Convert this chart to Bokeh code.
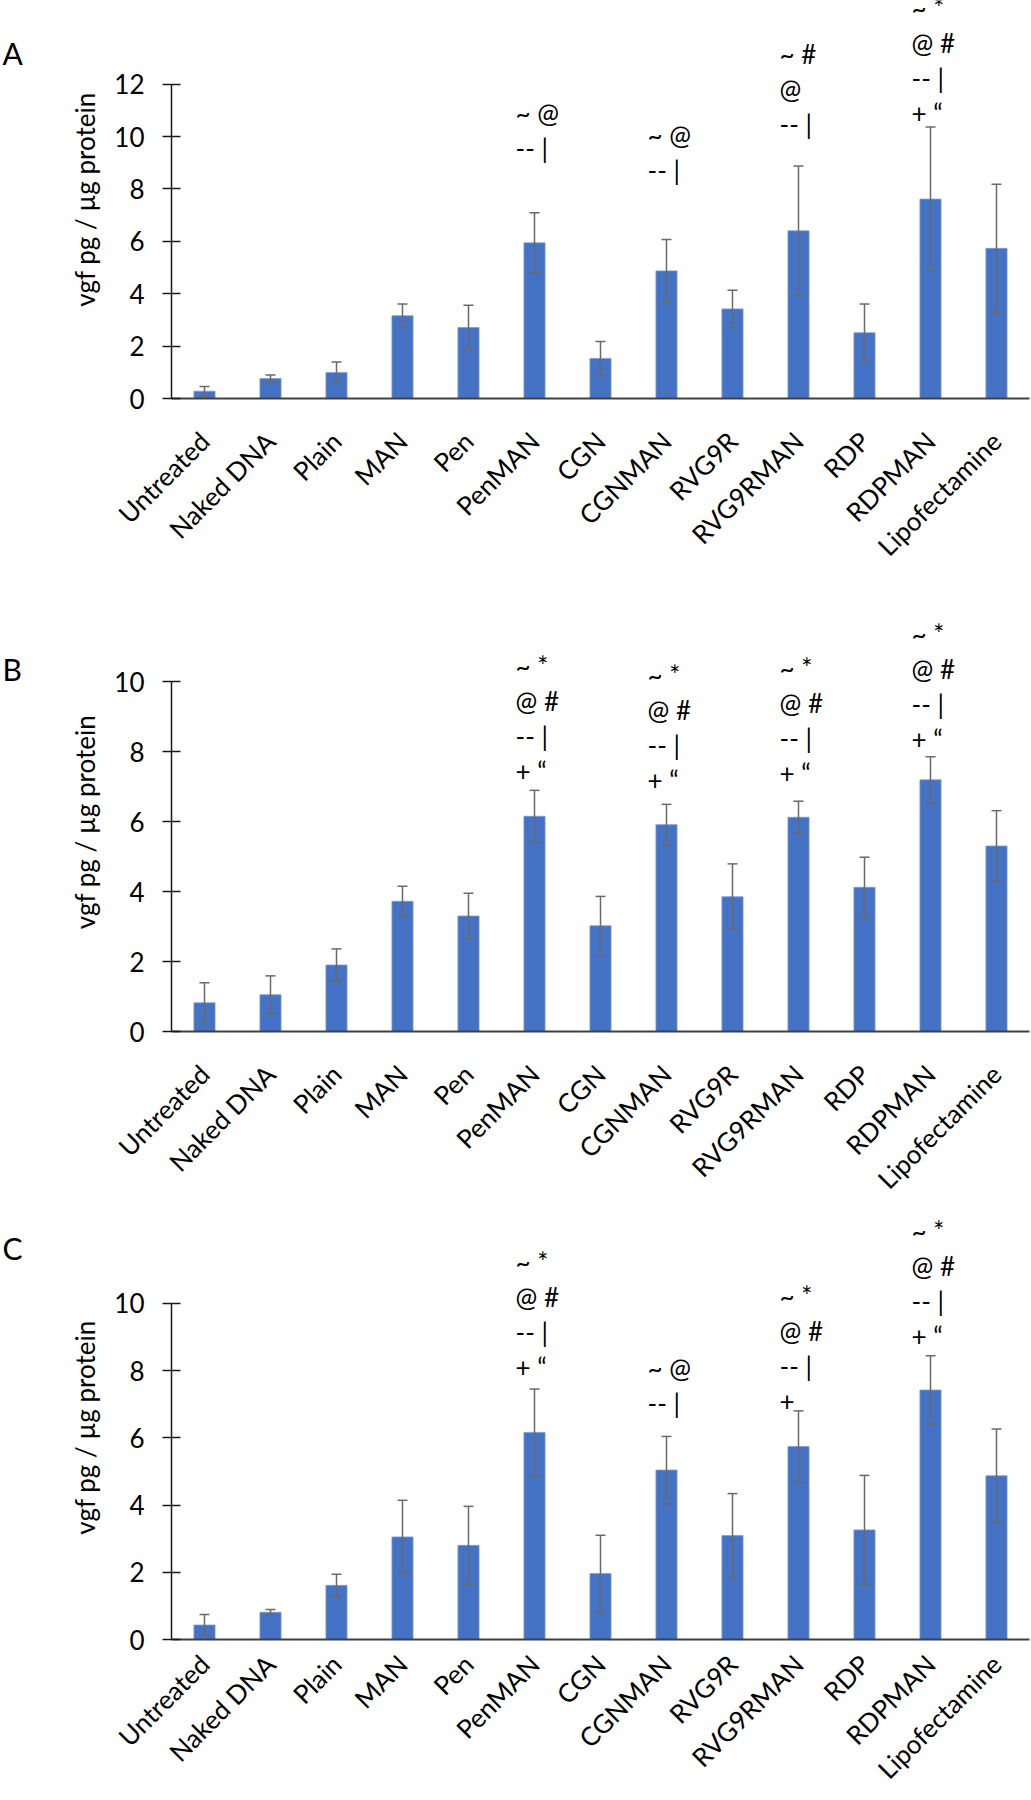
import math
from bokeh.plotting import figure
from bokeh.models import (ColumnDataSource, FactorRange, Range1d, FixedTicker,
                          Whisker, TeeHead)
from bokeh.layouts import column, row
from bokeh.embed import file_html
from bokeh.resources import INLINE
from bokeh.core.properties import value

# ---------------- data ----------------
categories = ["Untreated", "Naked DNA", "Plain", "MAN", "Pen", "PenMAN", "CGN",
              "CGNMAN", "RVG9R", "RVG9RMAN", "RDP", "RDPMAN", "Lipofectamine"]

mean_A = [0.28, 0.76, 0.99, 3.16, 2.71, 5.94, 1.53, 4.87, 3.42, 6.40, 2.51, 7.61, 5.73]
err_A = [0.18, 0.14, 0.40, 0.45, 0.85, 1.15, 0.65, 1.20, 0.71, 2.47, 1.10, 2.75, 2.45]

mean_B = [0.82, 1.05, 1.90, 3.72, 3.30, 6.15, 3.02, 5.91, 3.85, 6.12, 4.12, 7.19, 5.30]
err_B = [0.57, 0.54, 0.46, 0.43, 0.65, 0.74, 0.84, 0.58, 0.94, 0.46, 0.86, 0.66, 1.01]

mean_C = [0.43, 0.81, 1.61, 3.05, 2.80, 6.16, 1.96, 5.04, 3.09, 5.74, 3.26, 7.42, 4.87]
err_C = [0.31, 0.08, 0.33, 1.09, 1.16, 1.29, 1.14, 1.00, 1.25, 1.06, 1.62, 1.02, 1.39]

y_ticks_A = [0, 2, 4, 6, 8, 10, 12]
y_ticks_B = [0, 2, 4, 6, 8, 10]
y_ticks_C = [0, 2, 4, 6, 8, 10]

y_label = "vgf pg / µg protein"
panel_letters = ["A", "B", "C"]

# significance marks (top line first)
sig_A = {"PenMAN": ["~ @", "-- |"],
         "CGNMAN": ["~ @", "-- |"],
         "RVG9RMAN": ["~ #", "@", "-- |"],
         "RDPMAN": ["~ *", "@ #", "-- |", "+ \u201c"]}
sig_B = {"PenMAN": ["~ *", "@ #", "-- |", "+ \u201c"],
         "CGNMAN": ["~ *", "@ #", "-- |", "+ \u201c"],
         "RVG9RMAN": ["~ *", "@ #", "-- |", "+ \u201c"],
         "RDPMAN": ["~ *", "@ #", "-- |", "+ \u201c"]}
sig_C = {"PenMAN": ["~ *", "@ #", "-- |", "+ \u201c"],
         "CGNMAN": ["~ @", "-- |"],
         "RVG9RMAN": ["~ *", "@ #", "-- |", "+"],
         "RDPMAN": ["~ *", "@ #", "-- |", "+ \u201c"]}

# baseline (data units) of the lowest mark line
sig_pos_A = {"PenMAN": 9.58, "CGNMAN": 8.72, "RVG9RMAN": 10.46, "RDPMAN": 10.9}
sig_pos_B = {"PenMAN": 7.45, "CGNMAN": 7.2, "RVG9RMAN": 7.4, "RDPMAN": 8.37}
sig_pos_C = {"PenMAN": 8.1, "CGNMAN": 7.04, "RVG9RMAN": 7.1, "RDPMAN": 9.03}

# ---------------- style ----------------
FONT = "Lato"
FS = "26px"
BAR = "#4472C4"
ERR = "#6a6a6a"
LINE_GAP = 35  # px between mark lines
LETTER_W = 30


def letter_fig(letter, h, baseline):
    f = figure(width=LETTER_W, height=h, x_range=Range1d(0, LETTER_W),
               y_range=Range1d(h, 0), output_backend="svg",
               toolbar_location=None, x_axis_location=None,
               y_axis_location=None, min_border=0)
    f.outline_line_color = None
    f.xgrid.visible = False
    f.ygrid.visible = False
    f.text(x=[2], y=[baseline], text=[letter], text_font=value(FONT),
           text_font_size="30px", text_color="black", text_align="left",
           text_baseline="alphabetic")
    return f


def panel(means, errs, ticks, y_top, sig, sig_pos, h, b_top, b_bottom, lab_off):
    p = figure(x_range=FactorRange(*categories), y_range=Range1d(0, y_top),
               width=1031 - LETTER_W, height=h, output_backend="svg",
               toolbar_location=None,
               min_border_left=171 - LETTER_W, min_border_right=2,
               min_border_top=b_top, min_border_bottom=b_bottom)
    p.outline_line_color = None
    p.xgrid.visible = False
    p.ygrid.visible = False

    src = ColumnDataSource(dict(
        x=categories, top=means,
        upper=[m + e for m, e in zip(means, errs)],
        lower=[m - e for m, e in zip(means, errs)]))

    p.vbar(x="x", top="top", width=0.32, source=src, fill_color=BAR,
           line_color="#7f9bd4", line_width=0.8)

    w = Whisker(base="x", upper="upper", lower="lower", source=src,
                line_color=ERR, line_width=1.5, level="annotation",
                upper_head=TeeHead(size=10, line_color=ERR, line_width=1.5),
                lower_head=TeeHead(size=10, line_color=ERR, line_width=1.5))
    p.add_layout(w)

    xs, ys, txt, offs = [], [], [], []
    for cat, lines in sig.items():
        n = len(lines)
        for k, t in enumerate(lines):
            xs.append(cat)
            ys.append(sig_pos[cat])
            txt.append(t)
            offs.append(-(n - 1 - k) * LINE_GAP)
    ssrc = ColumnDataSource(dict(x=xs, y=ys, text=txt, yo=offs))
    p.text(x="x", y="y", text="text", y_offset="yo", x_offset=-19, source=ssrc,
           text_font=value(FONT), text_font_size=FS, text_color="black",
           text_align="left", text_baseline="alphabetic")

    ya = p.yaxis[0]
    ya.ticker = FixedTicker(ticks=ticks)
    ya.bounds = (0, ticks[-1])
    ya.major_tick_in = 9
    ya.major_tick_out = 9
    ya.minor_tick_in = 0
    ya.minor_tick_out = 0
    ya.axis_line_color = "#1a1a1a"
    ya.axis_line_width = 1.5
    ya.major_tick_line_color = "#1a1a1a"
    ya.major_tick_line_width = 1.5
    ya.major_label_text_font = FONT
    ya.major_label_text_font_size = FS
    ya.major_label_text_color = "black"
    ya.major_label_standoff = 18
    ya.axis_label = y_label
    ya.axis_label_text_font = FONT
    ya.axis_label_text_font_size = FS
    ya.axis_label_text_font_style = "normal"
    ya.axis_label_text_color = "black"
    ya.axis_label_standoff = 10

    xa = p.xaxis[0]
    xa.major_tick_in = 0
    xa.major_tick_out = 0
    xa.axis_line_color = "#404040"
    xa.axis_line_width = 2
    xa.major_label_orientation = math.pi / 4
    xa.major_label_text_font = FONT
    xa.major_label_text_font_size = FS
    xa.major_label_text_color = "black"
    xa.major_label_standoff = lab_off
    return p


hA, hB, hC = 594, 616, 589
pA = panel(mean_A, err_A, y_ticks_A, 398 / 26.2, sig_A, sig_pos_A,
           h=hA, b_top=0, b_bottom=196, lab_off=38)
pB = panel(mean_B, err_B, y_ticks_B, 419 / 35.0, sig_B, sig_pos_B,
           h=hB, b_top=18, b_bottom=179, lab_off=38)
pC = panel(mean_C, err_C, y_ticks_C, 425 / 33.7, sig_C, sig_pos_C,
           h=hC, b_top=5, b_bottom=159, lab_off=20)

layout = column(
    row(letter_fig(panel_letters[0], hA, 79), pA, spacing=0),
    row(letter_fig(panel_letters[1], hB, 83), pB, spacing=0),
    row(letter_fig(panel_letters[2], hC, 45), pC, spacing=0),
    spacing=0)

with open("out.html", "w") as f:
    f.write(file_html(layout, INLINE))
